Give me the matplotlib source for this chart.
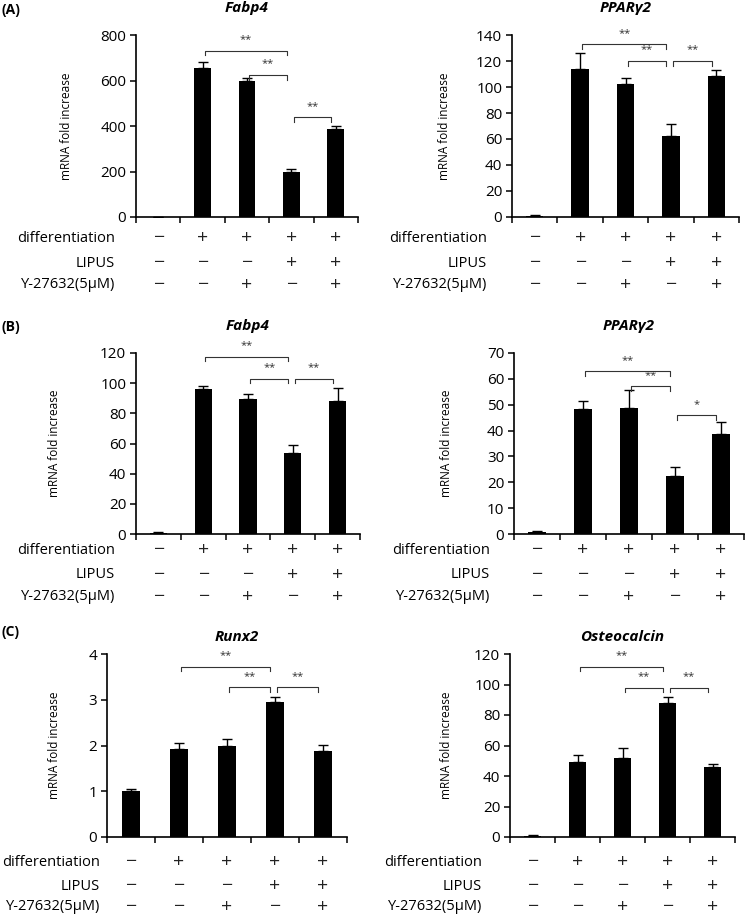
import matplotlib

matplotlib.use("Agg")
import matplotlib.pyplot as plt
import matplotlib.transforms as mtransforms

W, H = 745, 917
FONT = ["Open Sans", "DejaVu Sans"]
plt.rcParams["font.family"] = FONT

# treatment table (same for every panel)
row_names = ["differentiation", "LIPUS", "Y-27632(5\u03bcM)"]
diff_row = ["\u2212", "+", "+", "+", "+"]
lipus_row = ["\u2212", "\u2212", "\u2212", "+", "+"]
y27_row = ["\u2212", "\u2212", "+", "\u2212", "+"]

# (A) Fabp4
a_fabp4 = [1, 655, 596, 196, 389]
a_fabp4_err = [1, 28, 16, 13, 11]
a_fabp4_sig = [(1, 3, 731, "**"), (2, 3, 624, "**"), (3, 4, 439, "**")]
# (A) PPARg2
a_ppar = [1, 114, 102.5, 62.6, 108.8]
a_ppar_err = [0.3, 12, 4.2, 9, 4]
a_ppar_sig = [(1, 3, 133, "**"), (2, 3, 120, "**"), (3, 4, 120, "**")]
# (B) Fabp4
b_fabp4 = [0.8, 96.3, 89.2, 53.5, 88.2]
b_fabp4_err = [0.3, 1.5, 3.8, 5.7, 8.4]
b_fabp4_sig = [(1, 3, 117.5, "**"), (2, 3, 103, "**"), (3, 4, 103, "**")]
# (B) PPARg2
b_ppar = [0.7, 48.2, 48.6, 22.6, 38.6]
b_ppar_err = [0.6, 3.1, 7, 3.4, 4.8]
b_ppar_sig = [(1, 3, 63, "**"), (2, 3, 57.2, "**"), (3, 4, 46, "*")]
# (C) Runx2
c_runx2 = [1.0, 1.93, 1.99, 2.94, 1.89]
c_runx2_err = [0.04, 0.13, 0.16, 0.11, 0.12]
c_runx2_sig = [(1, 3, 3.72, "**"), (2, 3, 3.27, "**"), (3, 4, 3.27, "**")]
# (C) Osteocalcin
c_ocn = [0.9, 49.3, 51.5, 88, 45.8]
c_ocn_err = [0.3, 4.7, 7, 3.5, 1.9]
c_ocn_sig = [(1, 3, 111.7, "**"), (2, 3, 98, "**"), (3, 4, 98, "**")]


def fx(px):
    return px / W


def fy(py):
    return 1 - py / H


def draw_panel(fig, box, title, vals, errs, sigs, ymax, ystep,
               ylabel_x, label_right, row_offsets, title_gap, title_dx=0):
    left, top, right, bottom = box
    ax = fig.add_axes([fx(left), fy(bottom), (right - left) / W, (bottom - top) / H])
    n = len(vals)
    xs = [i + 0.5 for i in range(n)]
    ax.bar(xs, vals, width=0.38, color="black", zorder=2)
    ax.errorbar(xs, vals, yerr=[[0] * n, errs], fmt="none", ecolor="black",
                elinewidth=1.0, capsize=3.4, capthick=1.0, zorder=3)

    ax.set_xlim(0, n)
    ax.set_ylim(0, ymax)
    ax.set_xticks(range(n + 1))
    ax.set_xticklabels([])
    yt = [ystep * k for k in range(int(round(ymax / ystep)) + 1)]
    ax.set_yticks(yt)
    ax.set_yticklabels([f"{v:g}" for v in yt])
    ax.tick_params(axis="y", labelsize=11, length=4, width=1.1, pad=3)
    ax.tick_params(axis="x", length=4, width=1.1)
    for s in ["top", "right"]:
        ax.spines[s].set_visible(False)
    for s in ["left", "bottom"]:
        ax.spines[s].set_linewidth(1.2)

    # significance brackets
    leg = ymax * 0.025
    for i, j, y, lab in sigs:
        x1, x2 = i + 0.55, j + 0.4
        ax.plot([x1, x1, x2, x2], [y - leg, y, y, y - leg], color="#333333",
                lw=0.8, zorder=4, clip_on=False)
        ax.text((x1 + x2) / 2, y + ymax * 0.03, lab, ha="center", va="bottom",
                fontsize=8, color="#333333")

    fig.text(fx((left + right) / 2 + title_dx), fy(top - title_gap), title,
             ha="center", va="center", fontsize=11, fontweight="bold",
             fontstyle="italic")
    fig.text(fx(ylabel_x), fy((top + bottom) / 2), "mRNA fold increase",
             rotation=90, ha="center", va="center", fontsize=8.5)

    # treatment table under the axis
    trans = mtransforms.blended_transform_factory(ax.transData, fig.transFigure)
    for name, row, off in zip(row_names, [diff_row, lipus_row, y27_row], row_offsets):
        yy = fy(bottom + off)
        fig.text(fx(label_right), yy, name, ha="right", va="center", fontsize=10.5)
        for x, sym in zip(xs, row):
            ax.text(x, yy, sym, transform=trans, ha="center", va="center",
                    fontsize=14, color="#222222")
    return ax


fig = plt.figure(figsize=(W / 100, H / 100), dpi=100)

draw_panel(fig, (136, 35, 358, 217), "Fabp4", a_fabp4, a_fabp4_err, a_fabp4_sig,
           800, 200, 66, 115, (21, 46, 68), 27)
draw_panel(fig, (512, 35, 739, 217), "PPAR\u03b32", a_ppar, a_ppar_err, a_ppar_sig,
           140, 20, 444, 487, (21, 46, 68), 27)
draw_panel(fig, (136, 353, 360, 534), "Fabp4", b_fabp4, b_fabp4_err, b_fabp4_sig,
           120, 20, 55, 115, (16, 41, 63), 27)
draw_panel(fig, (514, 353, 744, 534), "PPAR\u03b32", b_ppar, b_ppar_err, b_ppar_sig,
           70, 10, 447, 490, (16, 41, 63), 27)
draw_panel(fig, (107, 654, 347, 837), "Runx2", c_runx2, c_runx2_err, c_runx2_sig,
           4, 1, 55, 100, (25, 49, 70), 17, title_dx=10)
draw_panel(fig, (510, 654, 735, 837), "Osteocalcin", c_ocn, c_ocn_err, c_ocn_sig,
           120, 20, 447, 482, (25, 49, 70), 17)

for lab, py in [("(A)", 10), ("(B)", 327), ("(C)", 632)]:
    fig.text(fx(1), fy(py), lab, ha="left", va="center", fontsize=10,
             fontweight="bold")

fig.savefig("out.png", dpi=100)
